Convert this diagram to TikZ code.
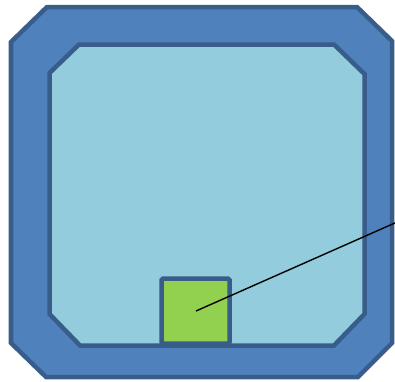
\documentclass[tikz,border=0pt]{standalone}
\usetikzlibrary{calc}
\definecolor{outerblue}{HTML}{4F81BD}
\definecolor{edgeblue}{HTML}{385D8A}
\definecolor{innerblue}{HTML}{93CDDD}
\definecolor{leafgreen}{HTML}{92D050}
\tikzset{
  panel/.style={draw=edgeblue, line width=4.5bp, line join=miter},
  outerpanel/.style={panel, fill=outerblue},
  innerpanel/.style={panel, fill=innerblue},
  greenbox/.style={draw=edgeblue, line width=4.5bp, fill=leafgreen, rounded corners=1.5bp, outer sep=0pt, inner sep=0pt},
  pointer/.style={draw=black, line width=1.4bp}
}
\begin{document}
\begin{tikzpicture}[x=1bp, y=-1bp]
\useasboundingbox (0,0) rectangle (395,382);
% outer chamfered frame
\path[outerpanel] (47,7) -- (357,7) -- (392,41) -- (392,343) -- (358,377) -- (46,377) -- (11,343) -- (11,42) -- cycle;
% inner chamfered panel
\path[innerpanel] (79,44.5) -- (334,44.5) -- (364.5,74) -- (364.5,314) -- (334,345.5) -- (80,345.5) -- (49.5,314) -- (49.5,73) -- cycle;
% green square
\node[greenbox, minimum width=68bp, minimum height=65bp, anchor=north west] (sq) at (161.5,278.5) {};
\coordinate (p) at (196,311);
\coordinate (q) at (396,222.5);
\draw[pointer] (p) -- (q);
\end{tikzpicture}
\end{document}
